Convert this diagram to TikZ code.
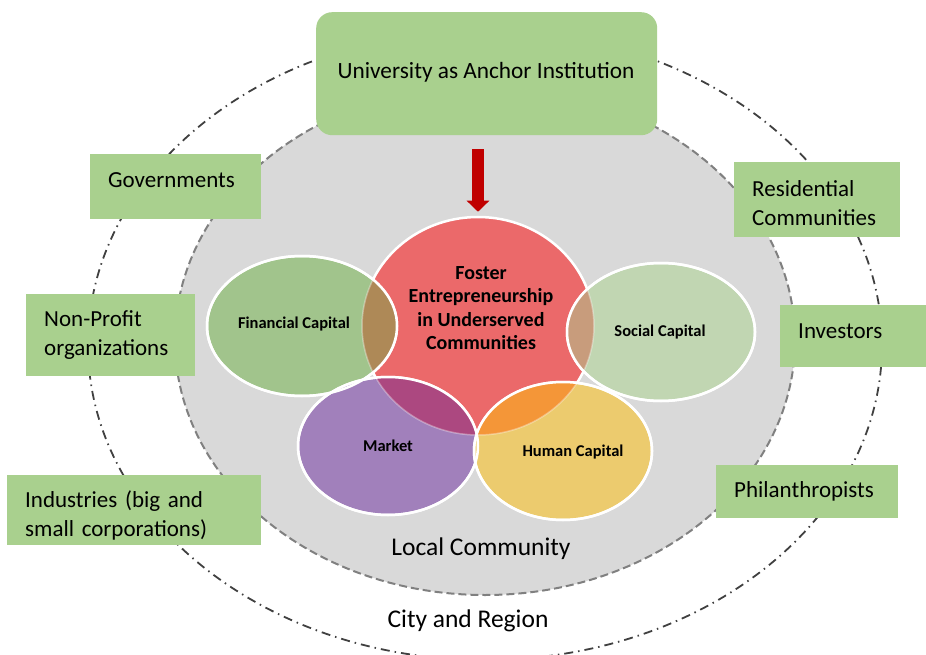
\documentclass[tikz,border=0pt]{standalone}
\usepackage{fontspec}
\setmainfont{Carlito}
\usepackage{tikz}
\usetikzlibrary{
  arrows.meta,
  shapes.geometric,
  calc
}
\definecolor{partnerGreen}{RGB}{169, 208, 142}
\definecolor{communityGray}{RGB}{217, 217, 217}
\definecolor{communityGrayBorder}{RGB}{128, 128, 128}
\definecolor{regionBorder}{RGB}{64, 64, 64}
\definecolor{arrowRed}{RGB}{192, 0, 0}
\definecolor{fosterRed}{RGB}{235, 105, 106}
\definecolor{financialGreen}{RGB}{161, 196, 140}
\definecolor{socialGreen}{RGB}{193, 214, 178}
\definecolor{marketPurple}{RGB}{161, 128, 187}
\definecolor{humanYellow}{RGB}{236, 203, 110}
\definecolor{financialMix}{RGB}{174, 137, 87}
\definecolor{socialMix}{RGB}{200, 156, 124}
\definecolor{marketMix}{RGB}{172, 72, 128}
\definecolor{humanMix}{RGB}{244, 150, 56}

\begin{document}
\begin{tikzpicture}[
    x=1pt, y=-1pt,
    partner/.style={rectangle, fill=partnerGreen, anchor=north west, inner xsep=18pt, inner ysep=0pt, align=left, font=\fontsize{23}{29}\selectfont},
    capital/.style={ellipse, draw=white, line width=2.5pt, inner sep=0pt},
    capitalText/.style={font=\bfseries\fontsize{16.5}{19}\selectfont},
    ringText/.style={font=\fontsize{25.5}{30}\selectfont}
]
    \useasboundingbox (0,0) rectangle (926,655);

    % rings
    \node[ellipse, draw=regionBorder, line width=1.8pt, dash pattern=on 9pt off 5pt on 1.5pt off 5pt, minimum width=794pt, minimum height=630pt] (city) at (485,345) {};
    \node[ellipse, fill=communityGray, draw=communityGrayBorder, line width=2pt, dash pattern=on 8pt off 4pt, minimum width=620pt, minimum height=510pt] (local) at (485,340) {};

    \node[ringText] (localText) at (481,549) {Local Community};
    \node[ringText] (cityText) at (468,621) {City and Region};

    % anchor institution
    \node[rectangle, fill=partnerGreen, rounded corners=16pt, minimum width=341pt, minimum height=123pt, anchor=north west] (uni) at (316,12) {};
    \node[font=\fontsize{23.3}{28}\selectfont] (uniText) at (486,72) {University as Anchor Institution};

    % capitals
    \node[capital, fill=fosterRed, minimum width=232pt, minimum height=218pt] (foster) at (478,326) {};
    \node[capital, fill=financialGreen, minimum width=190pt, minimum height=140pt] (fin) at (302,326) {};
    \node[capital, fill=socialGreen, minimum width=188pt, minimum height=138pt] (soc) at (661,332) {};
    \node[capital, fill=marketPurple, minimum width=180pt, minimum height=138pt] (market) at (388,446) {};
    \node[capital, fill=humanYellow, minimum width=178pt, minimum height=138pt] (human) at (563,451) {};

    \begin{scope}
        \clip (fin.center) ellipse [x radius=95pt, y radius=70pt];
        \fill[financialMix] (foster.center) ellipse [x radius=116pt, y radius=109pt];
    \end{scope}
    \begin{scope}
        \clip (soc.center) ellipse [x radius=94pt, y radius=69pt];
        \fill[socialMix] (foster.center) ellipse [x radius=116pt, y radius=109pt];
    \end{scope}
    \begin{scope}
        \clip (market.center) ellipse [x radius=90pt, y radius=69pt];
        \fill[marketMix] (foster.center) ellipse [x radius=116pt, y radius=109pt];
    \end{scope}
    \begin{scope}
        \clip (human.center) ellipse [x radius=89pt, y radius=69pt];
        \fill[humanMix] (foster.center) ellipse [x radius=116pt, y radius=109pt];
    \end{scope}

    \draw[white, line width=1.5pt, opacity=0.35] (foster.center) ellipse [x radius=116pt, y radius=109pt];
    \foreach \c/\rx/\ry in {fin/95/70, soc/94/69, market/90/69, human/89/69}
        \draw[white, line width=2.5pt] (\c.center) ellipse [x radius=\rx pt, y radius=\ry pt];

    \node[capitalText, align=center, font=\bfseries\fontsize{20}{23.5}\selectfont] (fosterText) at (481,308) {Foster\\Entrepreneurship\\in Underserved\\Communities};
    \node[capitalText] (finText) at (294,324) {Financial Capital};
    \node[capitalText] (socText) at (660,332) {Social Capital};
    \node[capitalText] (marketText) at (388,446) {Market};
    \node[capitalText] (humanText) at (573,452) {Human Capital};

    \draw[arrowRed, line width=12pt, -{Triangle[length=11pt, width=22pt]}, shorten <=14pt, shorten >=4pt] (uni.south -| foster.north) -- (foster.north);

    % partners
    \node[partner, text width=135pt, minimum height=65pt, text depth=13pt] (gov) at (90,154) {Governments};
    \node[partner, text width=133pt, minimum height=82pt] (nonprofit) at (26,294) {Non-Profit\\organizations};
    \node[partner, text width=218pt, minimum height=70pt, text height=27pt] (industry) at (7,475) {Industries (big and\\small corporations)};
    \node[partner, text width=130pt, minimum height=75pt, text height=22pt] (residential) at (734,162) {Residential\\Communities};
    \node[partner, text width=110pt, minimum height=62pt, text depth=10pt] (investors) at (780,305) {Investors};
    \node[partner, text width=146pt, minimum height=53pt] (philanthropists) at (716,465) {Philanthropists};

\end{tikzpicture}
\end{document}
